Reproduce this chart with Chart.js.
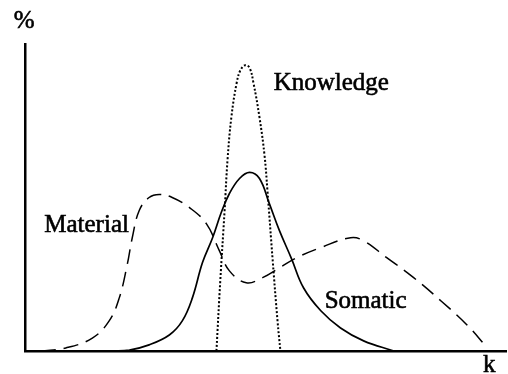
<!DOCTYPE html>
<html>
<head>
<meta charset="utf-8">
<script src="https://cdn.jsdelivr.net/npm/chart.js@4"></script>
<style>
  html, body { margin: 0; padding: 0; background: #fff; }
  #box { width: 508px; height: 374px; }
</style>
</head>
<body>
<div id="box"><canvas id="curveChart"></canvas></div>
<script>
// curves (k on x, % on y, both 0..100)
const materialK = [3.3, 8.5, 14.0, 17.5, 19.6, 21.25, 22.3, 23.75, 25.8, 27.9, 30.6, 34.2, 37.7, 40.4, 42.5, 46.0, 49.4, 52.9, 56.5, 61.5, 67.7, 70.4, 75.2, 80.8, 86.5, 91.9, 95.8];
const materialPct = [0, 1.0, 4.2, 9.8, 17.3, 28.1, 36.9, 45.75, 50.0, 51.0, 50.0, 46.7, 41.5, 32.7, 26.1, 22.2, 23.9, 27.1, 30.4, 33.7, 36.9, 35.9, 30.4, 23.9, 16.3, 8.5, 1.6];

const somaticK = [18.1, 21.7, 25.8, 30.0, 32.7, 34.8, 36.9, 39.0, 40.8, 42.5, 44.6, 46.7, 48.75, 50.8, 52.9, 55.4, 57.9, 61.5, 65.6, 70.4, 76.7];
const somaticPct = [0, 0.3, 2.0, 5.2, 9.8, 17.3, 28.8, 36.9, 45.1, 51.3, 56.2, 58.2, 56.2, 48.0, 39.2, 30.1, 20.6, 13.1, 7.5, 3.3, 0];

const knowledgeK = [39.8, 40.6, 41.5, 42.1, 42.9, 44.0, 44.8, 45.8, 46.7, 47.5, 48.75, 49.8, 50.4, 51.5, 52.5, 53.1];
const knowledgePct = [0, 22.9, 45.8, 62.1, 76.1, 87.3, 91.5, 93.1, 92.2, 87.3, 76.1, 63.7, 52.3, 29.4, 9.8, 0];

// text labels and where they sit (data units)
const labelText = ["Knowledge", "Material", "Somatic", "%", "k"];
const labelK = [51.7, 4.0, 62.3, -0.2, 96.5];
const labelPct = [87.0, 40.8, 16.0, 107.5, -4.6];
const labelAlign = ["left", "left", "left", "center", "center"];

function toPoints(xs, ys) {
    return xs.map((x, i) => ({ x: x, y: ys[i] }));
}

// draws the curve names and axis letters
const labelsPlugin = {
    id: "curveLabels",
    afterDraw(chart) {
        const ctx = chart.ctx;
        const xs = chart.scales.x;
        const ys = chart.scales.y;
        ctx.save();
        ctx.fillStyle = "#000";
        ctx.strokeStyle = "#000";
        ctx.lineWidth = 0.6;
        ctx.font = "25px 'Liberation Serif'";
        ctx.textBaseline = "middle";
        labelText.forEach((t, i) => {
            const px = xs.getPixelForValue(labelK[i]);
            const py = ys.getPixelForValue(labelPct[i]);
            ctx.textAlign = labelAlign[i];
            ctx.fillText(t, px, py);
            ctx.strokeText(t, px, py); // reference text is a little heavier than regular
        });
        ctx.restore();
    }
};

document.addEventListener("DOMContentLoaded", () => {
    const ctx = document.getElementById("curveChart").getContext("2d");

    const lineBase = {
        borderColor: "#000",
        pointRadius: 0,
        fill: false,
        tension: 0.4,
    };

    new Chart(ctx, {
        type: "line",
        data: {
            datasets: [
                Object.assign({ label: "Material", data: toPoints(materialK, materialPct), borderWidth: 1.5, borderDash: [15, 8] }, lineBase),
                Object.assign({ label: "Somatic", data: toPoints(somaticK, somaticPct), borderWidth: 1.7 }, lineBase),
                Object.assign({ label: "Knowledge", data: toPoints(knowledgeK, knowledgePct), borderWidth: 2, borderDash: [2, 2] }, lineBase),
            ],
        },
        options: {
            responsive: true,
            maintainAspectRatio: false,
            animation: false,
            layout: { padding: { left: 25, top: 44, right: 2, bottom: 23 } },
            plugins: {
                legend: { display: false },
                tooltip: { enabled: false },
            },
            scales: {
                x: {
                    type: "linear",
                    min: 0,
                    max: 100,
                    ticks: { display: false },
                    grid: { display: false, drawTicks: false },
                    border: { display: true, color: "#000", width: 2.5 },
                },
                y: {
                    min: 0,
                    max: 100,
                    ticks: { display: false },
                    grid: { display: false, drawTicks: false },
                    border: { display: true, color: "#000", width: 2.5 },
                },
            },
        },
        plugins: [labelsPlugin],
    });
});
</script>
</body>
</html>
